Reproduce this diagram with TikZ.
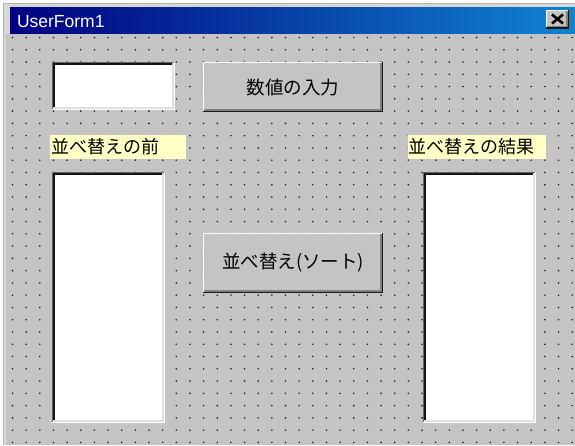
\documentclass[tikz,border=0pt]{standalone}
\usepackage{fontspec}
\setmainfont{Liberation Sans}
\newfontfamily\jpfont{Noto Sans CJK JP}
\usetikzlibrary{calc,shadings}
\definecolor{formgray}{HTML}{C4C4C4}
\definecolor{framegray}{HTML}{D8D8D8}
\definecolor{tipyellow}{HTML}{FFFFC6}
\definecolor{navyleft}{HTML}{000080}
\definecolor{blueright}{HTML}{1084D0}
\definecolor{dotcol}{HTML}{222222}
\newcommand\sunkenedge[1]{%
  \draw[line width=1.4pt, draw=black!60] ($(#1.south west)+(0.7,0)$) -- ($(#1.north west)+(0.7,0.7)$) -- ($(#1.north east)+(0,0.7)$);
  \draw[line width=1.4pt, draw=black!92] ($(#1.south west)+(2.1,-1.4)$) -- ($(#1.north west)+(2.1,2.1)$) -- ($(#1.north east)+(-1.4,2.1)$);
  \draw[line width=1.4pt, draw=white] ($(#1.south west)+(0,-0.7)$) -- ($(#1.south east)+(-0.7,-0.7)$) -- ($(#1.north east)+(-0.7,0)$);
  \draw[line width=1.4pt, draw=black!12] ($(#1.south west)+(1.4,-2.1)$) -- ($(#1.south east)+(-2.1,-2.1)$) -- ($(#1.north east)+(-2.1,1.4)$);
}
\newcommand\raisededge[1]{%
  \draw[line width=1.4pt, draw=white] ($(#1.south west)+(0.7,-1.4)$) -- ($(#1.north west)+(0.7,0.7)$) -- ($(#1.north east)+(-1.4,0.7)$);
  \draw[line width=1.4pt, draw=black!90] ($(#1.south west)+(0,-0.7)$) -- ($(#1.south east)+(-0.7,-0.7)$) -- ($(#1.north east)+(-0.7,0)$);
  \draw[line width=1.4pt, draw=black!50] ($(#1.south west)+(1.4,-2.1)$) -- ($(#1.south east)+(-2.1,-2.1)$) -- ($(#1.north east)+(-2.1,1.4)$);
}
\begin{document}
\begin{tikzpicture}[x=1pt,y=-1pt,
  ctrl/.style={rectangle, inner sep=0pt, outer sep=0pt, anchor=north west},
  inputbox/.style={ctrl, fill=white},
  pushbtn/.style={ctrl, fill=formgray, font=\jpfont\fontsize{18.5}{20}\selectfont},
  tiplabel/.style={ctrl, fill=tipyellow, align=left, font=\jpfont\fontsize{18}{20}\selectfont}]
\useasboundingbox (0,0) rectangle (575,445);
\fill[white] (0,0) rectangle (575,445);
% window frame
\fill[framegray] (3,3) rectangle (575,445);
\draw[line width=1pt, draw=black!30] (3.5,445) -- (3.5,3.5) -- (575,3.5);
% title bar
\node[ctrl, minimum width=565pt, minimum height=27pt, left color=navyleft, right color=blueright] (titlebar) at (10,7) {};
\node[anchor=base west, text=white, font=\fontsize{17.5}{20}\selectfont] (title) at (13.5,27) {UserForm1};
% close button
\node[ctrl, fill=formgray, minimum width=23pt, minimum height=19pt] (closebtn) at (546,9.5) {};
\raisededge{closebtn}
\draw[line width=2.6pt] ($(closebtn.center)+(-5.5,-4.5)$) -- ($(closebtn.center)+(5.5,4.5)$);
\draw[line width=2.6pt] ($(closebtn.center)+(-5.5,4.5)$) -- ($(closebtn.center)+(5.5,-4.5)$);
% form client area
\fill[formgray] (6,34) rectangle (575,445);
\foreach \i in {0,...,41}{
  \foreach \j in {0,...,33}{
    \fill[dotcol] (12.5+13.65*\i, 37.5+12.27*\j) circle (0.9);
  }
}
% controls
\node[inputbox, minimum width=123pt, minimum height=48pt] (textbox) at (52,62) {};
\sunkenedge{textbox}
\node[pushbtn, minimum width=180pt, minimum height=50pt] (inputbtn) at (203,62) {\raisebox{1.5pt}{数値の入力}};
\raisededge{inputbtn}
\node[tiplabel, text width=136pt, minimum height=24pt] (beforelbl) at (50,135) {\hspace*{1pt}並べ替えの前};
\node[inputbox, minimum width=113pt, minimum height=251pt] (beforelist) at (52,172) {};
\sunkenedge{beforelist}
\node[pushbtn, minimum width=180pt, minimum height=60pt] (sortbtn) at (203,233) {並べ替え(ソート)};
\raisededge{sortbtn}
\node[tiplabel, text width=138pt, minimum height=24pt] (afterlbl) at (408,135) {並べ替えの結果};
\node[inputbox, minimum width=113pt, minimum height=251pt] (afterlist) at (423,172) {};
\sunkenedge{afterlist}
\end{tikzpicture}
\end{document}
